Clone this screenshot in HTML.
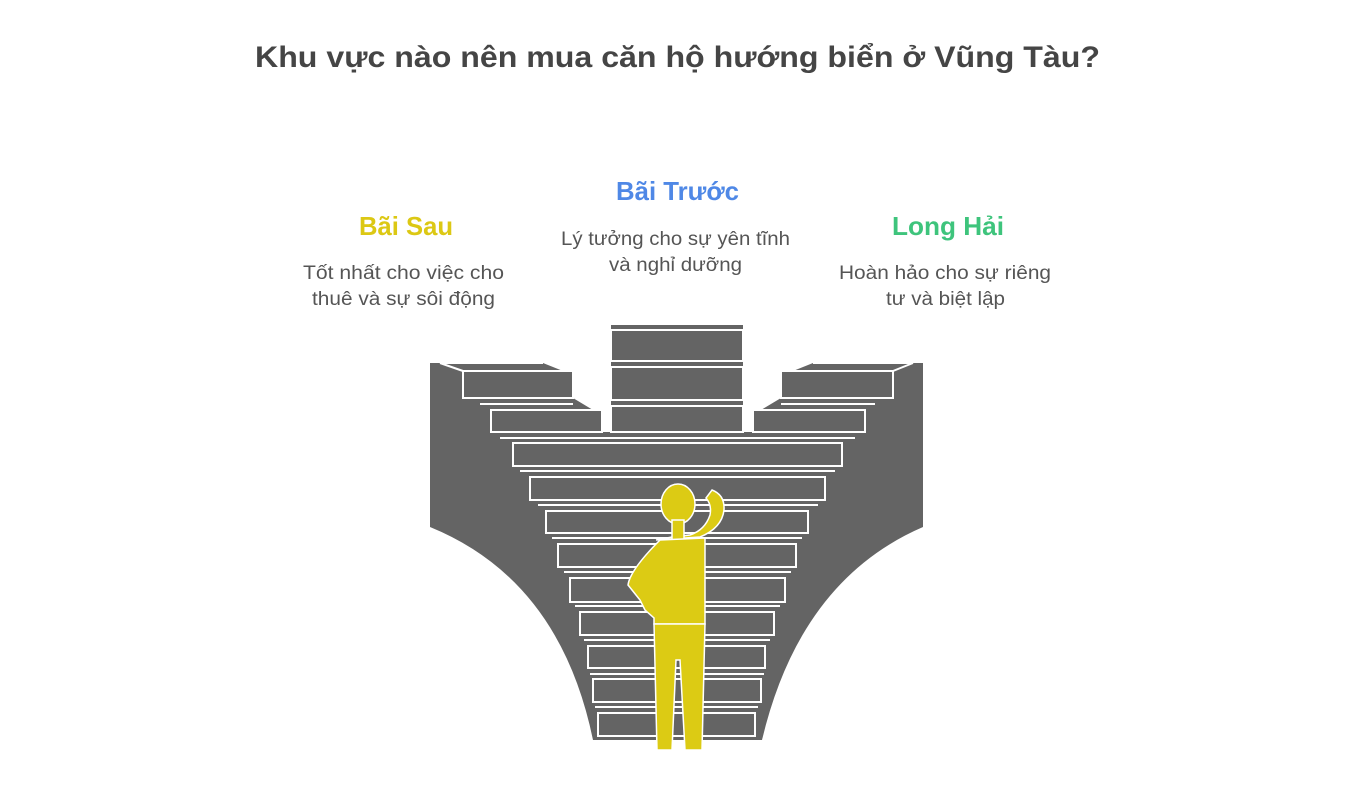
<!DOCTYPE html>
<html><head><meta charset="utf-8"><style>
html,body{margin:0;padding:0;background:#fff;}
body{width:1366px;height:790px;overflow:hidden;}
svg text{font-family:"Liberation Sans",sans-serif;}
</style></head><body>
<svg width="1366" height="790" viewBox="0 0 1366 790" xmlns="http://www.w3.org/2000/svg">
<text x="255" y="67" font-size="30" font-weight="bold" fill="#454545" textLength="845" lengthAdjust="spacingAndGlyphs">Khu vực nào nên mua căn hộ hướng biển ở Vũng Tàu?</text>
<text x="616" y="200" font-size="26" font-weight="bold" fill="#4f88e6" textLength="123" lengthAdjust="spacingAndGlyphs">Bãi Trước</text>
<text x="561" y="245" font-size="19" fill="#555" textLength="229" lengthAdjust="spacingAndGlyphs">Lý tưởng cho sự yên tĩnh</text>
<text x="609" y="271" font-size="19" fill="#555" textLength="133" lengthAdjust="spacingAndGlyphs">và nghỉ dưỡng</text>
<text x="359" y="235" font-size="26" font-weight="bold" fill="#dcc814" textLength="94" lengthAdjust="spacingAndGlyphs">Bãi Sau</text>
<text x="303" y="279" font-size="19" fill="#555" textLength="201" lengthAdjust="spacingAndGlyphs">Tốt nhất cho việc cho</text>
<text x="312" y="305" font-size="19" fill="#555" textLength="183" lengthAdjust="spacingAndGlyphs">thuê và sự sôi động</text>
<text x="892" y="235" font-size="26" font-weight="bold" fill="#3ec47c" textLength="112" lengthAdjust="spacingAndGlyphs">Long Hải</text>
<text x="839" y="279" font-size="19" fill="#555" textLength="212" lengthAdjust="spacingAndGlyphs">Hoàn hảo cho sự riêng</text>
<text x="886" y="305" font-size="19" fill="#555" textLength="119" lengthAdjust="spacingAndGlyphs">tư và biệt lập</text>

<g fill="#646464">
<path d="M430 363 L543 363 L563 371 L573 371 L573 398 L491 398 L491 410 L602 410 L602 432 L611 432 L611 324 L743 324 L743 432 L753 432 L753 410 L865 410 L865 398 L781 398 L781 371 L793 371 L813 363 L923 363 L923 527 Q800 580 762 740 L593 740 Q560 580 430 527 Z"/>
<path d="M491 398 L573 398 L593 410 L491 410 Z"/>
<path d="M865 398 L781 398 L761 410 L865 410 Z"/>
</g>
<g fill="#646464" stroke="#fff" stroke-width="2">
<rect x="463" y="371" width="110" height="27"/>
<rect x="491" y="410" width="111" height="22"/>
<rect x="781" y="371" width="112" height="27"/>
<rect x="753" y="410" width="112" height="22"/>
<rect x="611" y="330" width="132" height="31"/>
<rect x="611" y="367" width="132" height="33"/>
<rect x="611" y="406" width="132" height="26"/>
<rect x="513" y="443" width="329" height="23"/>
<rect x="530" y="477" width="295" height="23"/>
<rect x="546" y="511" width="262" height="22"/>
<rect x="558" y="544" width="238" height="23"/>
<rect x="570" y="578" width="215" height="24"/>
<rect x="580" y="612" width="194" height="23"/>
<rect x="588" y="646" width="177" height="22"/>
<rect x="593" y="679" width="168" height="23"/>
<rect x="598" y="713" width="157" height="23"/>
</g>
<g stroke="#fff" stroke-width="2" fill="none">
<line x1="611" y1="324" x2="743" y2="324"/>
<line x1="440" y1="363" x2="543" y2="363"/><line x1="463" y1="371" x2="440" y2="363"/>
<line x1="480" y1="404" x2="573" y2="404"/>
<line x1="813" y1="363" x2="913" y2="363"/><line x1="893" y1="371" x2="913" y2="363"/>
<line x1="781" y1="404" x2="875" y2="404"/>
<line x1="500" y1="438" x2="855" y2="438"/>
<line x1="520" y1="471" x2="835" y2="471"/>
<line x1="538" y1="505" x2="818" y2="505"/>
<line x1="552" y1="538" x2="802" y2="538"/>
<line x1="564" y1="572" x2="791" y2="572"/>
<line x1="575" y1="606" x2="780" y2="606"/>
<line x1="584" y1="640" x2="770" y2="640"/>
<line x1="590" y1="674" x2="764" y2="674"/>
<line x1="595" y1="707" x2="758" y2="707"/>
</g>
<g fill="#dccb14" stroke="#fff" stroke-width="1.5">
<path d="M656 540 L700 537 Q722 528 724 510 Q725 495 712 490 L706 498 Q712 505 710 515 Q705 530 690 535 L672 537 Z"/>
<ellipse cx="678" cy="504" rx="17" ry="20"/>
<rect x="672" y="520" width="12" height="20"/>
<path d="M660 540 L705 538 L705 624 L654 624 L654 618 L645 610 L640 600 L628 585 Q630 570 660 540 Z"/>
<path d="M654 624 L705 624 L702 750 L685 750 L680 660 L676 660 L672 750 L657 750 Z"/>
</g>
</svg>
</body></html>
